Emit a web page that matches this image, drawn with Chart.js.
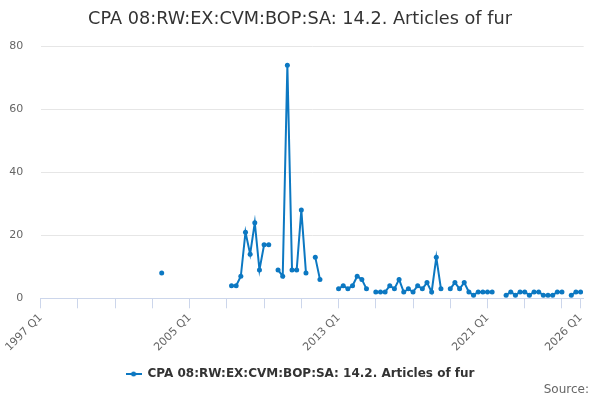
<!DOCTYPE html>
<html>
<head>
<meta charset="utf-8">
<script src="https://cdn.jsdelivr.net/npm/chart.js@4"></script>
<style>
  body { margin: 0; background: #fff; }
  #wrap { width: 600px; height: 400px; }
</style>
</head>
<body>
<div id="wrap"><canvas id="chart" width="600" height="400"></canvas></div>
<script>
// quarterly series, index 0 = 1997 Q1
const startYear = 1997;
const seriesName = "CPA 08:RW:EX:CVM:BOP:SA: 14.2. Articles of fur";
const values = [
    null, null, null, null, null, null, null, null, null, null,   // 1997 Q1 - 1999 Q2
    null, null, null, null, null, null, null, null, null, null,   // 1999 Q3 - 2001 Q4
    null, null, null, null, null, null, 8, null, null, null,      // 2002 Q1 - 2004 Q2
    null, null, null, null, null, null, null, null, null, null,   // 2004 Q3 - 2006 Q4
    null, 4, 4, 7, 21, 14, 24, 9, 17, 17,                         // 2007 Q1 - 2009 Q2
    null, 9, 7, 74, 9, 9, 28, 8, null, 13,                        // 2009 Q3 - 2011 Q4
    6, null, null, null, 3, 4, 3, 4, 7, 6,                        // 2012 Q1 - 2014 Q2
    3, null, 2, 2, 2, 4, 3, 6, 2, 3,                              // 2014 Q3 - 2016 Q4
    2, 4, 3, 5, 2, 13, 3, null, 3, 5,                             // 2017 Q1 - 2019 Q2
    3, 5, 2, 1, 2, 2, 2, 2, null, null,                           // 2019 Q3 - 2021 Q4
    1, 2, 1, 2, 2, 1, 2, 2, 1, 1,                                 // 2022 Q1 - 2024 Q2
    1, 2, 2, null, 1, 2, 2                                        // 2024 Q3 - 2026 Q1
];
const tickIndices = [0, 8, 16, 24, 32, 40, 48, 56, 64, 72, 80, 88, 96, 104, 112, 116];
const labelIndices = [0, 32, 64, 96, 116];

const lineColor = "#0c78c2";

function quarterLabel(i) {
    return (startYear + Math.floor(i / 4)) + " Q" + (i % 4 + 1);
}

// legend symbol: short line with a dot
const legendMark = document.createElement("canvas");
legendMark.width = 16;
legendMark.height = 6;
const lctx = legendMark.getContext("2d");
lctx.strokeStyle = lineColor;
lctx.lineWidth = 2;
lctx.beginPath(); lctx.moveTo(0, 3); lctx.lineTo(16, 3); lctx.stroke();
lctx.fillStyle = lineColor;
lctx.beginPath(); lctx.arc(8, 3, 2.5, 0, Math.PI * 2); lctx.fill();

const sourceNote = {
    id: "sourceNote",
    afterDraw(chart) {
        const ctx = chart.ctx;
        ctx.save();
        ctx.font = "12px 'DejaVu Sans'";
        ctx.fillStyle = "#666";
        ctx.textAlign = "right";
        ctx.textBaseline = "middle";
        ctx.fillText("Source:", 589, 390);
        ctx.restore();
    }
};

Chart.defaults.font.family = "'DejaVu Sans', sans-serif";

const points = values.map((v, i) => ({ x: i, y: v }));

new Chart(document.getElementById("chart"), {
    type: "line",
    data: {
        datasets: [{
            label: seriesName,
            data: points,
            borderColor: lineColor,
            backgroundColor: lineColor,
            borderWidth: 2,
            pointRadius: 2.5,
            pointHoverRadius: 3,
            pointBorderWidth: 0,
            spanGaps: false,
            tension: 0
        }]
    },
    options: {
        responsive: false,
        animation: false,
        layout: { padding: { left: 0, right: 0, top: 0, bottom: 10 } },
        plugins: {
            title: {
                display: true,
                text: seriesName,
                color: "#333",
                font: { size: 17.7, weight: "normal" },
                padding: { top: 8.5, bottom: 16.6 }
            },
            legend: {
                position: "bottom",
                labels: {
                    usePointStyle: true,
                    pointStyle: legendMark,
                    pointStyleWidth: 16,
                    boxHeight: 6,
                    padding: 9,
                    color: "#333",
                    font: { size: 12, weight: "bold" }
                }
            },
            tooltip: { enabled: false }
        },
        scales: {
            x: {
                type: "linear",
                min: 0,
                max: 116.67,
                afterBuildTicks: s => { s.ticks = tickIndices.map(v => ({ value: v })); },
                afterFit: s => { s.height = 60.7; s.paddingLeft = 0; s.paddingRight = 0; },
                grid: { drawOnChartArea: false, drawTicks: true, tickLength: 10, tickColor: "#ccd6eb" },
                border: { color: "#ccd6eb" },
                ticks: {
                    autoSkip: false,
                    minRotation: 45,
                    maxRotation: 45,
                    padding: 3,
                    color: "#666",
                    font: { size: 11 },
                    callback: v => labelIndices.includes(v) ? quarterLabel(v) : ""
                }
            },
            y: {
                min: 0,
                max: 80,
                afterFit: s => { s.width = 40.7; },
                grid: { color: "#e6e6e6", drawTicks: false },
                border: { display: false },
                ticks: { stepSize: 20, padding: 17.4, color: "#666", font: { size: 11 } }
            },
            // empty strip on the right so the plot ends where the reference does
            spacer: {
                type: "linear",
                position: "right",
                afterFit: s => { s.width = 16.3; },
                grid: { display: false },
                border: { display: false },
                ticks: { display: false }
            }
        }
    },
    plugins: [sourceNote]
});
</script>
</body>
</html>
